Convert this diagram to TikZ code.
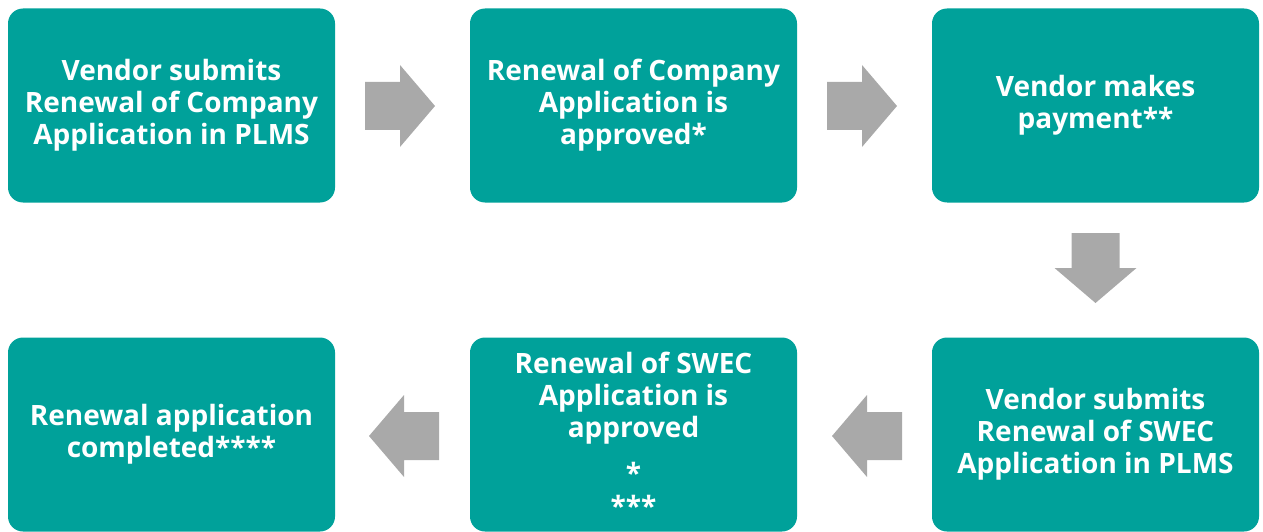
\documentclass[tikz,border=0pt]{standalone}
\usepackage{fontspec}
\setmainfont{Open Sans}
\definecolor{teal1}{HTML}{00A19A}
\definecolor{grayarrow}{HTML}{A9A9A9}
\tikzset{
  stepbox/.style={fill=teal1, rounded corners=15pt, minimum width=327pt, minimum height=194pt,
    inner sep=0pt, text=white, align=center,
    font=\fontsize{28}{32}\selectfont\bfseries},
  barrow/.pic={\fill[grayarrow] (0,-24) -- (35,-24) -- (35,-41) -- (70,0) -- (35,41) -- (35,24) -- (0,24) -- cycle;}
}
\begin{document}
\begin{tikzpicture}[x=1pt,y=-1pt]
\useasboundingbox (0,0) rectangle (1263,532);
\node[stepbox] (b1) at (171.5,105.5) {Vendor submits\\Renewal of Company\\Application in PLMS};
\node[stepbox] (b2) at (633.5,105.5) {Renewal of Company\\Application is\\approved*};
\node[stepbox] (b3) at (1095.5,105.5) {Vendor makes\\payment**};
\node[stepbox] (b4) at (1095.5,434.5) {Vendor submits\\Renewal of SWEC\\Application in PLMS};
\node[stepbox] (b5) at (633.5,434.5) {Renewal of SWEC\\Application is\\approved\\[14pt]*\\[1pt]***};
\node[stepbox] (b6) at (171.5,434.5) {Renewal application\\completed****};
\pic at (365,106) {barrow};
\pic at (827,106) {barrow};
\pic[rotate=-90] at (1095.5,233) {barrow};
\pic[rotate=180] at (902,436) {barrow};
\pic[rotate=180] at (439,436) {barrow};
\end{tikzpicture}
\end{document}
